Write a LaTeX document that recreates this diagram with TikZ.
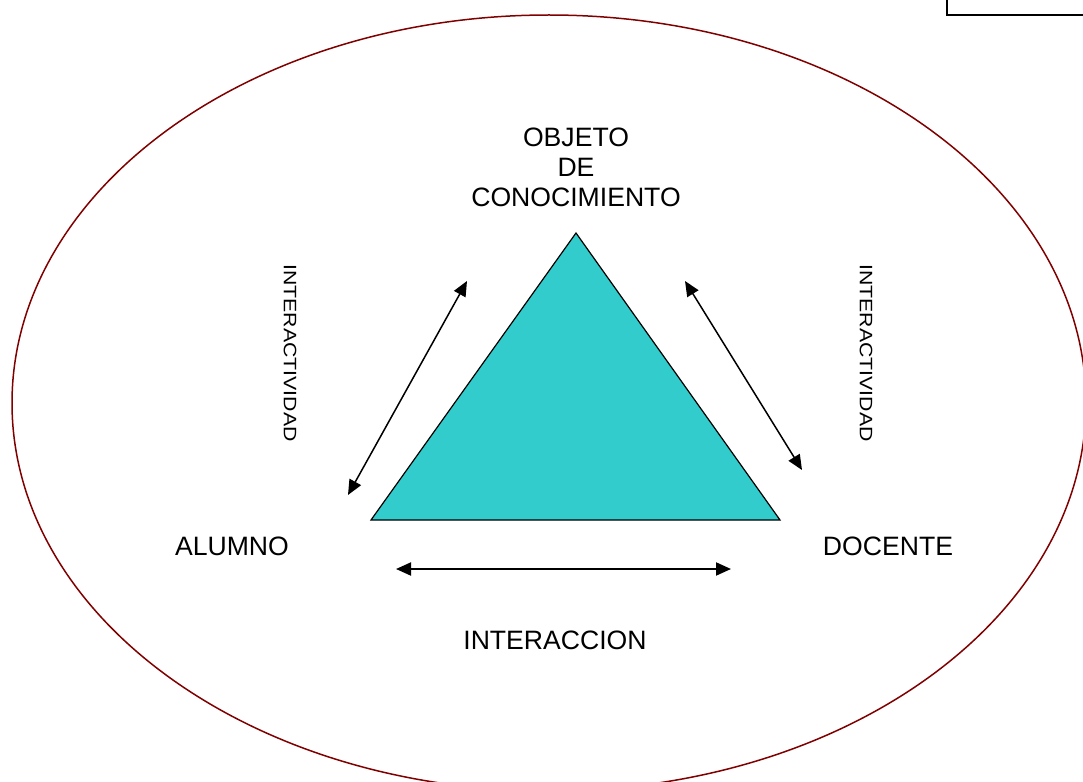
\documentclass[tikz,border=0pt]{standalone}
\usepackage{fontspec}
\setmainfont{Liberation Sans}
\usetikzlibrary{arrows.meta}
\definecolor{turq}{HTML}{33CCCC}
\definecolor{maroon}{HTML}{800000}
\tikzset{
  lbl/.style={font=\fontsize{26.6}{30}\selectfont, inner sep=0pt},
  vlbl/.style={font=\fontsize{18}{20}\selectfont, inner sep=0pt, rotate=-90},
  dbl/.style={{Triangle[length=15pt,width=13pt]}-{Triangle[length=15pt,width=13pt]}, line width=1.5pt}
}
\begin{document}
\begin{tikzpicture}[x=1pt,y=-1pt]
      \useasboundingbox (0,0) rectangle (1083,781);
      \draw[maroon, line width=1.5pt] (549,403) ellipse [x radius=537, y radius=388];
      \draw[line width=1.5pt] (947,-5) -- (947,15) -- (1090,15);
      \draw
        (576,233) coordinate (top)
        (371,520) coordinate (left)
        (780,520) coordinate (right);
      \filldraw[fill=turq, line width=1.2pt, line join=miter] (top) -- (left) -- (right) -- cycle;
      \draw
        (576,167) node[lbl, align=center] (objeto){OBJETO\\DE\\CONOCIMIENTO}
        (232,546) node[lbl] (alumno){ALUMNO}
        (888,546) node[lbl] (docente){DOCENTE}
        (555,640) node[lbl] (interaccion){INTERACCION}
        (290,353) node[vlbl] (inter1){\scalebox{1.18}[1]{INTERACTIVIDAD}}
        (866,353) node[vlbl] (inter2){\scalebox{1.18}[1]{INTERACTIVIDAD}};
      \draw
        (467,281) coordinate (a1)
        (348,495) coordinate (a2)
        (685,281) coordinate (b1)
        (802,470) coordinate (b2)
        (396,569) coordinate (c1)
        (731,569) coordinate (c2);
      \begin{scope}[dbl]
        \draw (a1) to (a2);
        \draw (b1) to (b2);
        \draw[line width=2pt] (c1) to (c2);
      \end{scope}
    \end{tikzpicture}
\end{document}
